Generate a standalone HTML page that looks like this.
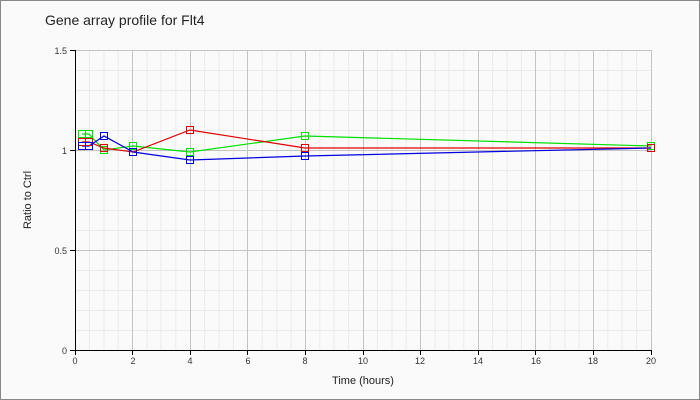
<!DOCTYPE html>
<html><head><meta charset="utf-8"><style>
html,body{margin:0;padding:0;background:#fff}
svg{display:block;font-family:"Liberation Sans",sans-serif}
</style></head><body>
<svg width="700" height="400" viewBox="0 0 700 400" xmlns="http://www.w3.org/2000/svg">
<rect x="0.5" y="0.5" width="699" height="399" fill="#fafafa" stroke="#888"/>
<text x="45" y="25" font-size="14" fill="#222">Gene array profile for Flt4</text>
<g stroke="#ebebeb" stroke-width="1">
<path d="M89.4 50V350M118.2 50V350M147 50V350M175.8 50V350M204.6 50V350M233.4 50V350M262.2 50V350M291 50V350M319.8 50V350M348.6 50V350M377.4 50V350M406.2 50V350M435 50V350M463.8 50V350M492.6 50V350M521.4 50V350M550.2 50V350M579 50V350M607.8 50V350M636.6 50V350"/>
<path d="M104 50V350M161 50V350M219 50V350M277 50V350M334 50V350M392 50V350M449 50V350M507 50V350M565 50V350M622 50V350"/>
<path d="M75 70.5H651M75 90.5H651M75 110.5H651M75 130.5H651M75 170.5H651M75 190.5H651M75 210.5H651M75 230.5H651M75 270.5H651M75 290.5H651M75 310.5H651M75 330.5H651"/>
</g>
<g stroke="#c4c4c4" stroke-width="1">
<path d="M132.5 50V350M190.5 50V350M247.5 50V350M305.5 50V350M363.5 50V350M420.5 50V350M478.5 50V350M535.5 50V350M593.5 50V350M651.5 50V350"/>
<path d="M75 50.5H651M75 150.5H651M75 250.5H651"/>
</g>
<path d="M75.5 50V350.5H651" fill="none" stroke="#000"/>
<g stroke="#000"><path d="M70 50.5h5M70 150.5h5M70 250.5h5M70 350.5h5M75.5 350v5M132.5 350v5M190.5 350v5M247.5 350v5M305.5 350v5M363.5 350v5M420.5 350v5M478.5 350v5M535.5 350v5M593.5 350v5M651.5 350v5"/></g>
<g font-size="9" fill="#333" text-anchor="end">
<text x="67" y="54">1.5</text><text x="67" y="154">1</text><text x="67" y="254">0.5</text><text x="67" y="354">0</text>
</g>
<g font-size="9" fill="#333" text-anchor="middle">
<text x="75" y="364">0</text><text x="133" y="364">2</text><text x="190" y="364">4</text><text x="248" y="364">6</text><text x="305" y="364">8</text><text x="363" y="364">10</text><text x="420" y="364">12</text><text x="478" y="364">14</text><text x="536" y="364">16</text><text x="593" y="364">18</text><text x="651" y="364">20</text>
</g>
<text x="363" y="384" font-size="11" fill="#222" text-anchor="middle">Time (hours)</text>
<text x="31" y="200" font-size="11" fill="#222" text-anchor="middle" transform="rotate(-90 31 200)">Ratio to Ctrl</text>
<g fill="none" stroke-width="1.2">
<polyline stroke="#00e000" points="82,134 89,134 104,150 133,146 190,152 305,136 651,146"/>
<polyline stroke="#e00000" points="82,142 89,142 104,148 133,152 190,130 305,148 651,148"/>
<polyline stroke="#0000e0" points="82,146 89,146 104,136 133,152 190,160 305,156 651,148"/>
</g>
<g fill="none" stroke-width="1">
<g stroke="#00e000"><rect x="78.5" y="130.5" width="7" height="7"/><rect x="85.5" y="130.5" width="7" height="7"/><rect x="100.5" y="146.5" width="7" height="7"/><rect x="129.5" y="142.5" width="7" height="7"/><rect x="186.5" y="148.5" width="7" height="7"/><rect x="301.5" y="132.5" width="7" height="7"/><rect x="647.5" y="142.5" width="7" height="7"/></g>
<g stroke="#e00000"><rect x="78.5" y="138.5" width="7" height="7"/><rect x="85.5" y="138.5" width="7" height="7"/><rect x="100.5" y="144.5" width="7" height="7"/><rect x="129.5" y="148.5" width="7" height="7"/><rect x="186.5" y="126.5" width="7" height="7"/><rect x="301.5" y="144.5" width="7" height="7"/><rect x="647.5" y="144.5" width="7" height="7"/></g>
<g stroke="#0000e0"><rect x="78.5" y="142.5" width="7" height="7"/><rect x="85.5" y="142.5" width="7" height="7"/><rect x="100.5" y="132.5" width="7" height="7"/><rect x="129.5" y="148.5" width="7" height="7"/><rect x="186.5" y="156.5" width="7" height="7"/><rect x="301.5" y="152.5" width="7" height="7"/></g>
</g>
</svg>
</body></html>
